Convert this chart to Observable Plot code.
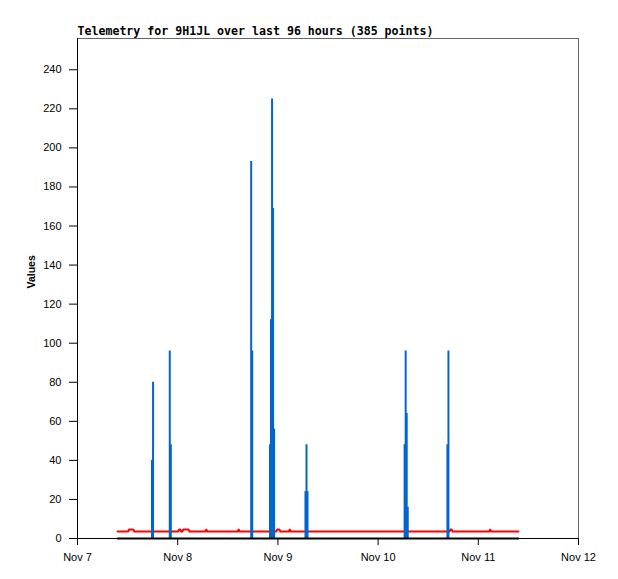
<!DOCTYPE html>
<html><head><meta charset="utf-8">
<script src="https://cdn.jsdelivr.net/npm/d3@7"></script>
<script src="https://cdn.jsdelivr.net/npm/@observablehq/plot@0.6"></script>
<style>body{margin:0;background:#fff}</style>
</head><body><div id="chart"></div>
<script>
const title = "Telemetry for 9H1JL over last 96 hours (385 points)";
const yLabel = "Values";
const xTickTimes = ["2023-11-07T00:00","2023-11-08T00:00","2023-11-09T00:00","2023-11-10T00:00","2023-11-11T00:00","2023-11-12T00:00"];
const xTickLabels = ["Nov 7","Nov 8","Nov 9","Nov 10","Nov 11","Nov 12"];
const yTicks = [0,20,40,60,80,100,120,140,160,180,200,220,240];

// blue series: non-zero readings (all other readings are 0)
const blueTimes = [
  "2023-11-07T17:51","2023-11-07T18:06",
  "2023-11-07T22:06","2023-11-07T22:21",
  "2023-11-08T17:36","2023-11-08T17:51",
  "2023-11-08T22:06","2023-11-08T22:21","2023-11-08T22:36","2023-11-08T22:51","2023-11-08T23:06",
  "2023-11-09T06:36","2023-11-09T06:51","2023-11-09T07:06",
  "2023-11-10T06:21","2023-11-10T06:36","2023-11-10T06:51","2023-11-10T07:06",
  "2023-11-10T16:36","2023-11-10T16:51"
];
const blueValues = [
  40,80,
  96,48,
  193,96,
  48,112,225,169,56,
  24,48,24,
  48,96,64,16,
  48,96
];

// red series: readings where the level changes
const redTimes = [
  "2023-11-07T09:36","2023-11-07T12:06","2023-11-07T12:21","2023-11-07T13:21","2023-11-07T13:36",
  "2023-11-08T00:06","2023-11-08T00:21","2023-11-08T00:36","2023-11-08T00:51","2023-11-08T01:06",
  "2023-11-08T01:21","2023-11-08T02:36","2023-11-08T02:51",
  "2023-11-08T06:36","2023-11-08T06:51","2023-11-08T07:06",
  "2023-11-08T14:21","2023-11-08T14:36","2023-11-08T14:51",
  "2023-11-08T23:36","2023-11-08T23:51","2023-11-09T00:21","2023-11-09T00:36",
  "2023-11-09T02:36","2023-11-09T02:51","2023-11-09T03:06",
  "2023-11-10T17:06","2023-11-10T17:21","2023-11-10T17:36","2023-11-10T17:51",
  "2023-11-11T02:36","2023-11-11T02:51","2023-11-11T03:06",
  "2023-11-11T09:36"
];
const redValues = [
  3.6,3.6,4.6,4.6,3.6,
  3.6,4.6,4.6,3.6,3.6,
  4.6,4.6,3.6,
  3.6,4.6,3.6,
  3.6,4.6,3.6,
  3.6,4.6,4.6,3.6,
  3.6,4.6,3.6,
  3.6,4.6,4.6,3.6,
  3.6,4.6,3.6,
  3.6
];

// black series: constant 0
const blackTimes = ["2023-11-07T09:36","2023-11-11T09:36"];
const blackValues = [0,0];

const toDate = s => new Date(s + ":00Z");
const xTicks = xTickTimes.map(toDate);
const labelByTime = new Map(xTicks.map((d,i)=>[+d, xTickLabels[i]]));
const blue = blueTimes.map((t,i)=>({t: toDate(t), v: blueValues[i]}));
const red = redTimes.map((t,i)=>({t: toDate(t), v: redValues[i]}));
const black = blackTimes.map((t,i)=>({t: toDate(t), v: blackValues[i]}));

const chart = Plot.plot({
  width: 618, height: 579,
  marginLeft: 77, marginRight: 40, marginTop: 38, marginBottom: 41,
  style: {fontFamily: "'Liberation Sans', Arial, sans-serif", fontSize: "11px", color: "#000", background: "#fff", overflow: "visible"},
  x: {type: "utc", domain: [xTicks[0], xTicks[xTicks.length-1]]},
  y: {domain: [0, 256]},
  marks: [
    Plot.frame({stroke: "#666"}),
    Plot.axisY({ticks: yTicks, tickSize: 8, tickPadding: 8, label: null, tickFormat: d => String(d)}),
    Plot.axisX({ticks: xTicks, tickSize: 7, tickPadding: 8, label: null, tickFormat: d => labelByTime.get(+d)}),
    Plot.line(red, {x: "t", y: "v", stroke: "#ff0000", strokeWidth: 2}),
    Plot.ruleX(blue, {x: "t", y: "v", stroke: "#0066cc", strokeWidth: 2}),
    Plot.line(black, {x: "t", y: "v", stroke: "#000", strokeWidth: 2}),
    Plot.ruleX([xTicks[0]], {stroke: "#000"}),
    Plot.ruleY([0], {stroke: "#000"}),
    Plot.text([title], {frameAnchor: "top-left", dy: -4, lineAnchor: "bottom", textAnchor: "start", fontFamily: "'DejaVu Sans Mono', monospace", fontWeight: "bold", fontSize: 11.6}),
    Plot.text([yLabel], {frameAnchor: "left", dx: -46, rotate: -90, fontWeight: "bold", fontSize: 10.5})
  ]
});
document.getElementById("chart").appendChild(chart);
</script>
</body></html>
